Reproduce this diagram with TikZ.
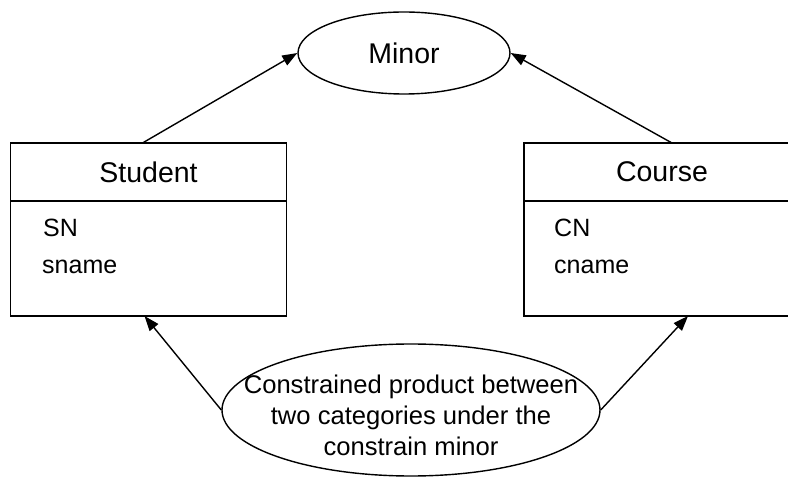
\documentclass[tikz,border=0pt]{standalone}
\usepackage{fontspec}
\setmainfont{Liberation Sans}
\usetikzlibrary{shapes.geometric,arrows.meta,positioning}
\begin{document}
\begin{tikzpicture}[x=1pt,y=-1pt,
    entity/.style={draw,rectangle,line width=1.6pt,minimum width=276pt,inner sep=0pt,outer sep=0pt},
    title/.style={font=\fontsize{28.5}{32}\selectfont},
    oval/.style={draw,ellipse,line width=1.4pt,inner sep=0pt},
    attr/.style={anchor=base west,inner sep=0pt,font=\fontsize{25}{30}\selectfont},
    link/.style={-{Triangle[length=15pt,width=11pt]},line width=1.4pt}]
  \useasboundingbox (0,0) rectangle (788,481);
  \clip (0,0) rectangle (788,481);
  \node (Minor) at (404,53) [oval,minimum width=212pt,minimum height=82pt,title] {Minor};
  \node (Student) at (148.5,172) [entity,minimum height=58pt,title] {Student};
  \node (StudentAttr) [entity,minimum height=115pt,below=0pt of Student] {};
  \node (Course) at (662,172) [entity,minimum height=58pt,title] {Course};
  \node (CourseAttr) [entity,minimum height=115pt,below=0pt of Course] {};
  \node (SN) at (43,237) [attr] {SN};
  \node (sname) at (42,274) [attr] {sname};
  \node (CN) at (554,237) [attr] {CN};
  \node (cname) at (554,274) [attr] {cname};
  \node (Product) at (411,410) [oval,minimum width=378pt,minimum height=132pt] {};
  \node (ProductText) at ([yshift=-5pt]Product.center) [align=center,font=\fontsize{25.6}{31}\selectfont] {Constrained product between\\two categories under the\\constrain minor};
  \draw [link] ([xshift=-6pt]Student.north) -- (Minor.west);
  \draw [link] ([xshift=10pt]Course.north) -- (Minor.east);
  \draw [link] (Product.west) -- ([xshift=-4pt]StudentAttr.south);
  \draw [link] (Product.east) -- ([xshift=26pt]CourseAttr.south);
\end{tikzpicture}
\end{document}
